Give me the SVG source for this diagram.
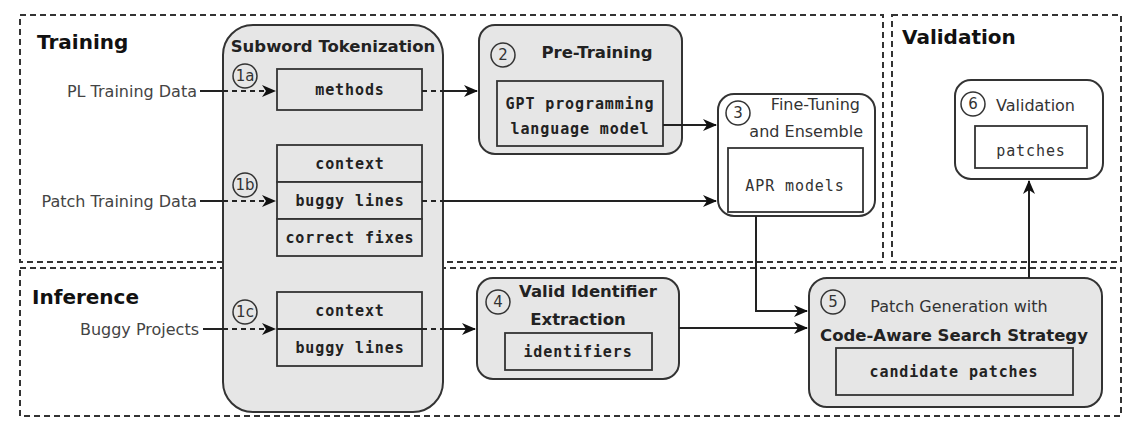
<svg xmlns="http://www.w3.org/2000/svg" width="1147" height="435" viewBox="0 0 1147 435">
<style>
.region{fill:none;stroke:#333;stroke-width:2;stroke-dasharray:6 4}
.box{fill:#e6e6e6;stroke:#333;stroke-width:2}
.wbox{fill:#fff;stroke:#333;stroke-width:2}
.inner{fill:#e6e6e6;stroke:#333;stroke-width:1.8}
.winner{fill:#fff;stroke:#333;stroke-width:1.8}
.circ{fill:none;stroke:#333;stroke-width:1.5}
.hdr{font-family:"DejaVu Sans",sans-serif;font-weight:bold;font-size:20px;fill:#111}
.ttl{font-family:"DejaVu Sans",sans-serif;font-weight:bold;font-size:16.5px;fill:#222}
.lbl{font-family:"DejaVu Sans",sans-serif;font-size:16px;fill:#444}
.num{font-family:"DejaVu Sans",sans-serif;font-size:15px;fill:#333;text-anchor:middle}
.code{font-family:"DejaVu Sans Mono",monospace;font-weight:bold;font-size:15px;fill:#222;text-anchor:middle;letter-spacing:0.9px}
.codeN{font-family:"DejaVu Sans Mono",monospace;font-size:15px;fill:#333;text-anchor:middle;letter-spacing:0.9px}
.ln{fill:none;stroke:#222;stroke-width:2}
.dl{fill:none;stroke:#222;stroke-width:2;stroke-dasharray:5 4}
</style>
<defs>
<marker id="ah" markerWidth="14" markerHeight="12" refX="13" refY="6" orient="auto" markerUnits="userSpaceOnUse">
<path d="M0,0 L14,6 L0,12 L4,6 z" fill="#111"/>
</marker>
</defs>
<rect width="1147" height="435" fill="#fff"/>
<g id="regions">
<rect class="region" x="20" y="15" width="863" height="247"/>
<rect class="region" x="892" y="15" width="229" height="247"/>
<rect class="region" x="20" y="268" width="1101" height="148"/>
<text class="hdr" x="37" y="49">Training</text>
<text class="hdr" x="902" y="44">Validation</text>
<text class="hdr" x="32" y="304">Inference</text>
</g>
<g id="tokenization">
<rect class="box" x="223" y="25" width="220" height="387" rx="30"/>
<text class="ttl" x="333" y="52" text-anchor="middle">Subword Tokenization</text>
<circle class="circ" cx="245" cy="76" r="12"/><text class="num" x="245" y="81">1a</text>
<rect class="inner" x="277" y="69" width="145" height="41"/>
<text class="code" x="350" y="95">methods</text>
<circle class="circ" cx="245" cy="185" r="12"/><text class="num" x="245" y="190">1b</text>
<rect class="inner" x="277" y="145" width="145" height="37"/>
<rect class="inner" x="277" y="182" width="145" height="37"/>
<rect class="inner" x="277" y="219" width="145" height="37"/>
<text class="code" x="350" y="169">context</text>
<text class="code" x="350" y="206">buggy lines</text>
<text class="code" x="350" y="243">correct fixes</text>
<circle class="circ" cx="245" cy="312" r="12"/><text class="num" x="245" y="317">1c</text>
<rect class="inner" x="277" y="292" width="145" height="74"/>
<line class="ln" x1="277" y1="329" x2="422" y2="329" stroke-width="1.8"/>
<text class="code" x="350" y="316">context</text>
<text class="code" x="350" y="353">buggy lines</text>
</g>
<g id="inputs">
<text class="lbl" x="197" y="97" text-anchor="end">PL Training Data</text>
<text class="lbl" x="197" y="207" text-anchor="end">Patch Training Data</text>
<text class="lbl" x="199" y="335" text-anchor="end">Buggy Projects</text>
</g>
<g id="pretraining">
<rect class="box" x="479" y="25" width="203" height="129" rx="16"/>
<circle class="circ" cx="503" cy="55" r="12"/><text class="num" x="503" y="60">2</text>
<text class="ttl" x="597" y="58" text-anchor="middle">Pre-Training</text>
<rect class="inner" x="497" y="81" width="166" height="65"/>
<text class="code" x="580" y="109">GPT programming</text>
<text class="code" x="580" y="134">language model</text>
</g>
<g id="finetuning">
<rect class="wbox" x="718" y="94" width="157" height="122" rx="16"/>
<circle class="circ" cx="738" cy="113" r="12"/><text class="num" x="738" y="118">3</text>
<text class="lbl" x="860" y="110" text-anchor="end" style="fill:#333">Fine-Tuning</text>
<text class="lbl" x="863" y="137" text-anchor="end" style="fill:#333">and Ensemble</text>
<rect class="winner" x="728" y="148" width="135" height="64"/>
<text class="codeN" x="795" y="191">APR models</text>
</g>
<g id="validation">
<rect class="wbox" x="955" y="80" width="148" height="99" rx="16"/>
<circle class="circ" cx="973" cy="104" r="12"/><text class="num" x="973" y="109">6</text>
<text class="lbl" x="996" y="111" style="fill:#333">Validation</text>
<rect class="winner" x="975" y="126" width="112" height="42"/>
<text class="codeN" x="1031" y="156">patches</text>
</g>
<g id="identifier">
<rect class="box" x="477" y="278" width="202" height="101" rx="16"/>
<circle class="circ" cx="498" cy="302" r="12"/><text class="num" x="498" y="307">4</text>
<text class="ttl" x="588" y="297" text-anchor="middle">Valid Identifier</text>
<text class="ttl" x="578" y="325" text-anchor="middle">Extraction</text>
<rect class="inner" x="505" y="333" width="147" height="37"/>
<text class="code" x="578" y="357">identifiers</text>
</g>
<g id="patchgen">
<rect class="box" x="809" y="278" width="293" height="129" rx="18"/>
<circle class="circ" cx="833" cy="302" r="12"/><text class="num" x="833" y="307">5</text>
<text class="lbl" x="959" y="312" text-anchor="middle" style="fill:#333">Patch Generation with</text>
<text class="ttl" x="954" y="341" text-anchor="middle">Code-Aware Search Strategy</text>
<rect class="inner" x="836" y="348" width="237" height="47"/>
<text class="code" x="954" y="377">candidate patches</text>
</g>
<g id="connectors">
<line class="ln" x1="200" y1="91" x2="223" y2="91"/>
<line class="dl" x1="223" y1="91" x2="275" y2="91" marker-end="url(#ah)"/>
<line class="dl" x1="422" y1="91" x2="443" y2="91"/>
<line class="ln" x1="443" y1="91" x2="477" y2="91" marker-end="url(#ah)"/>
<line class="ln" x1="200" y1="201" x2="223" y2="201"/>
<line class="dl" x1="223" y1="201" x2="275" y2="201" marker-end="url(#ah)"/>
<line class="dl" x1="422" y1="201" x2="443" y2="201"/>
<line class="ln" x1="443" y1="201" x2="716" y2="201" marker-end="url(#ah)"/>
<line class="ln" x1="203" y1="329" x2="223" y2="329"/>
<line class="dl" x1="223" y1="329" x2="275" y2="329" marker-end="url(#ah)"/>
<line class="dl" x1="422" y1="329" x2="443" y2="329"/>
<line class="ln" x1="443" y1="329" x2="475" y2="329" marker-end="url(#ah)"/>
<line class="ln" x1="663" y1="125" x2="716" y2="125" marker-end="url(#ah)"/>
<polyline class="ln" points="756,216 756,311 807,311" marker-end="url(#ah)"/>
<line class="ln" x1="679" y1="328" x2="807" y2="328" marker-end="url(#ah)"/>
<line class="ln" x1="1029" y1="278" x2="1029" y2="181" marker-end="url(#ah)"/>
</g>
</svg>
